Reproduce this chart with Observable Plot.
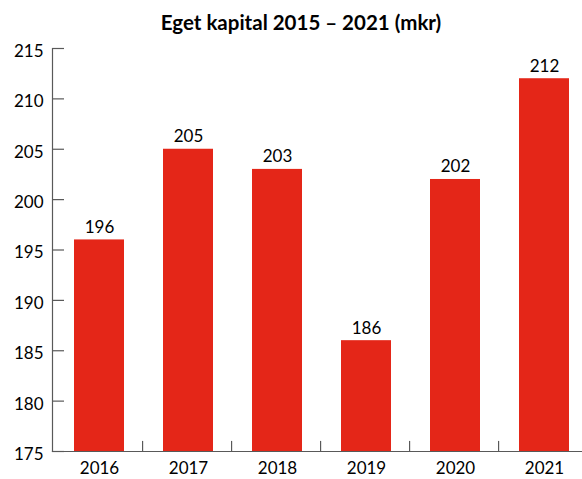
<!DOCTYPE html>
<html><head><meta charset="utf-8">
<script src="https://cdn.jsdelivr.net/npm/d3@7"></script>
<script src="https://cdn.jsdelivr.net/npm/@observablehq/plot@0.6"></script>
<style>
body{margin:0;background:#fff;font-family:Lato,sans-serif;}
#title{height:44px;line-height:44px;font-size:20.5px;font-weight:bold;text-align:center;padding-left:20px;box-sizing:border-box;width:582px;color:#000;}
</style></head><body>
<div id="title"></div>
<div id="chart"></div>
<script>
const titleText = "Eget kapital 2015 – 2021 (mkr)";
const years = ["2016", "2017", "2018", "2019", "2020", "2021"];
const values = [196, 205, 203, 186, 202, 212];
const yTicks = [175, 180, 185, 190, 195, 200, 205, 210, 215];
const yDomain = [175, 215];

document.getElementById("title").textContent = titleText;
const data = years.map((y, i) => ({year: y, value: values[i]}));

const W = 582, H = 435, ml = 52, mr = 0, mt = 4, mb = 28;
const xRange = [52, 587];
const step = (xRange[1] - xRange[0]) / years.length;
const frameW = W - ml - mr;
const axisColor = "#595959";

const plot = Plot.plot({
  width: W, height: H, marginLeft: ml, marginRight: mr, marginTop: mt, marginBottom: mb,
  style: {fontFamily: "Lato, sans-serif", fontSize: "17px", color: "#000", background: "#fff", overflow: "visible"},
  x: {domain: years, range: xRange, padding: 0, label: null},
  y: {domain: yDomain, label: null},
  marks: [
    Plot.barY(data, {x: "year", y1: yDomain[0], y2: "value", fill: "#e42618", insetLeft: 21, insetRight: 18}),
    Plot.text(data, {x: "year", y: "value", text: d => String(d.value), lineAnchor: "bottom", dy: -7, dx: 1.5, fill: "#000", fontSize: 17}),
    Plot.ruleX(years.slice(0, -1), {x: d => d, y1: yDomain[0], y2: yDomain[0] + 1, dx: step / 2, stroke: axisColor, strokeWidth: 1.2}),
    Plot.tickY(yTicks, {y: d => d, insetRight: frameW - 12, stroke: axisColor, strokeWidth: 1.2}),
    Plot.frame({anchor: "left", stroke: axisColor, strokeWidth: 1.2}),
    Plot.frame({anchor: "bottom", stroke: axisColor, strokeWidth: 1.2}),
    Plot.axisY({ticks: yTicks, tickSize: 0, tickPadding: 9, dy: 3, fontSize: 17, fill: "#000", label: null}),
    Plot.axisX({tickSize: 0, tickPadding: 10, dx: 1.5, fontSize: 17, fill: "#000", label: null})
  ]
});
document.getElementById("chart").appendChild(plot);
</script>
</body></html>
